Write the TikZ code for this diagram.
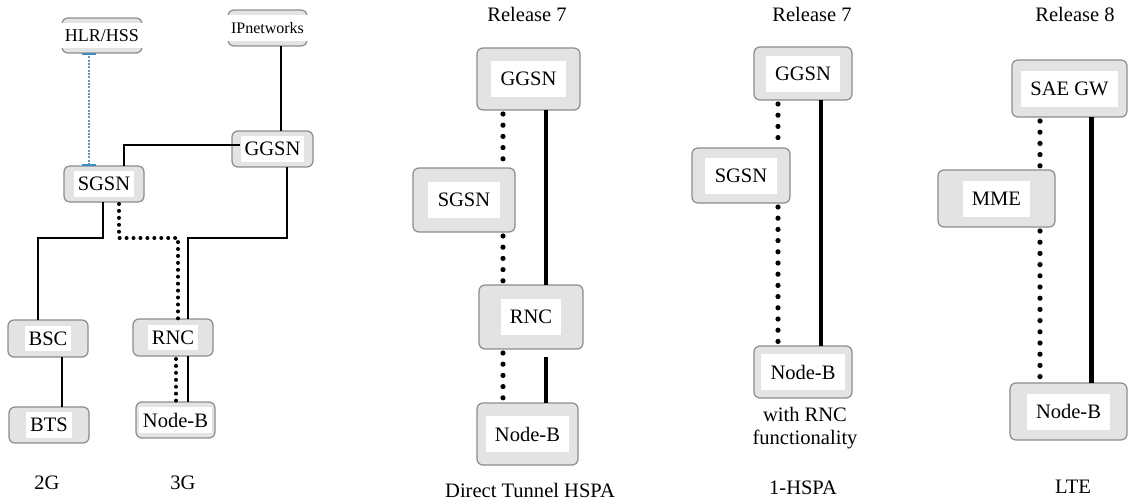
\documentclass[tikz,border=0pt]{standalone}
\usepackage{fontspec}
\setmainfont{Liberation Serif}
\newfontfamily\tmsfont{Liberation Serif}
\usetikzlibrary{calc}

% Network element: grey rounded frame with a white label field
\newcommand\netbox[7]{%
  \node[outerbox, minimum width={(#4-#2)*0.75pt}, minimum height={(#5-#3)*0.75pt}]
    (#1) at ({(#2+#4)/2},{(#3+#5)/2}) {};
  \node[#6] (#1-txt) at (#1.center) {#7};
}

\tikzset{
  outerbox/.style={draw=black!45, fill=black!11, rounded corners=4.5pt,
    line width=0.9pt, inner sep=0pt, outer sep=0pt},
  fieldS/.style={fill=white, inner xsep=3pt, inner ysep=0pt, minimum height=19pt,
    font=\tmsfont\fontsize{15.4}{18}\selectfont},
  fieldL/.style={fill=white, inner xsep=7pt, inner ysep=0pt, minimum height=27pt,
    font=\tmsfont\fontsize{15.4}{18}\selectfont},
  caption/.style={font=\tmsfont\fontsize{15.4}{17.25}\selectfont, align=center, inner sep=0pt},
  solidL/.style={line width=1.8pt, black},
  dotL/.style={line width=3pt, black, line cap=round, dash pattern=on 0pt off 5.2pt},
  blueline/.style={line width=0.9pt, color={rgb,255:red,95;green,150;blue,185}, dash pattern=on 1.5pt off 1pt},
  bluecap/.style={line width=1.2pt, color={rgb,255:red,60;green,140;blue,190}},
  solidM/.style={line width=3pt, black},
  solidW/.style={line width=3.75pt, black},
  dotM/.style={line width=3.9pt, black, line cap=round, dash pattern=on 0pt off 8.4pt},
}

\begin{document}
\begin{tikzpicture}[x=0.75pt, y=-0.75pt]
\useasboundingbox (0,0) rectangle (1129,500);

% ---------- 2G / 3G core network ----------
\netbox{hlr}{62}{18}{142}{53}{fieldS, font=\tmsfont\fontsize{13.5}{16}\selectfont}{HLR/HSS}
\netbox{ipn}{228}{10}{307}{46}{fieldS, font=\tmsfont\fontsize{12}{14}\selectfont}{IPnetworks}
\netbox{ggsnA}{232}{131}{313}{167}{fieldS}{GGSN}
\netbox{sgsnA}{64}{166}{144}{202}{fieldS}{SGSN}
\netbox{bsc}{8}{320}{88}{357}{fieldS}{BSC}
\netbox{rnc}{133}{319}{213}{356}{fieldS}{RNC}
\netbox{bts}{9}{407}{89}{443}{fieldS}{BTS}
\netbox{nodebA}{136}{402}{215}{438}{fieldS}{Node-B}

\node[caption] (lab2g) at (47,483) {2G};
\node[caption] (lab3g) at (183,483) {3G};

\draw[blueline] ($(hlr.south)+(-13,0)$) coordinate (hA) -- (hA |- sgsnA.north) coordinate (hB);
\draw[bluecap] ($(hA)+(-7,1)$) -- ++(14,0);
\draw[bluecap] ($(hB)+(-7,-1)$) -- ++(14,0);

\draw[solidL] ($(ipn.south)+(13.5,0)$) coordinate (i1) -- (i1 |- ggsnA.north);
\draw[solidL] ($(ggsnA.west)+(8,-4)$) -| ($(sgsnA.north)+(20,0)$);
\draw[solidL] ($(sgsnA.south)+(-1,0)$) -- ++(0,36) -| ($(bsc.north)+(-10,0)$);
\draw[dotL] ($(sgsnA.south)+(15,2)$) -- ++(0,34) -| ($(rnc.north)+(5,0)$);
\draw[solidL] ($(ggsnA.south)+(14.5,0)$) -- ++(0,71) -| ($(rnc.north)+(15,0)$);
\draw[solidL] ($(bsc.south)+(14,0)$) coordinate (b1) -- (b1 |- bts.north);
\draw[dotL] ($(rnc.south)+(3,3)$) coordinate (r1) -- (r1 |- nodebA.north);
\draw[solidL] ($(rnc.south)+(15,0)$) coordinate (r2) -- (r2 |- nodebA.north);

% ---------- Direct Tunnel HSPA ----------
\node[caption] (relB) at (527,14) {Release 7};
\netbox{ggsnB}{477}{48}{580}{110}{fieldL}{GGSN}
\netbox{sgsnB}{413}{168}{515}{232}{fieldL}{SGSN}
\netbox{rncB}{479}{285}{583}{349}{fieldL}{RNC}
\netbox{nodebB}{477}{403}{578}{465}{fieldL}{Node-B}
\node[caption] (capB) at (530,490) {Direct Tunnel HSPA};

\draw[dotM] ($(ggsnB.south)+(-25.5,4)$) coordinate (g1) -- (g1 |- sgsnB.north);
\draw[dotM] ($(sgsnB.south)+(39,4)$) coordinate (s1) -- (s1 |- rncB.north);
\draw[dotM] ($(rncB.south)+(-28,4)$) coordinate (r3) -- (r3 |- nodebB.north);
\draw[solidM] ($(ggsnB.south)+(17.5,0)$) coordinate (g2) -- (g2 |- rncB.north);
\draw[solidM] ($(rncB.south)+(15,8)$) coordinate (r4) -- (r4 |- nodebB.north);

% ---------- 1-HSPA ----------
\node[caption] (relC) at (812,14) {Release 7};
\netbox{ggsnC}{754}{47}{852}{100}{fieldL}{GGSN}
\netbox{sgsnC}{692}{148}{790}{203}{fieldL}{SGSN}
\netbox{nodebC}{754}{346}{852}{398}{fieldL}{Node-B}
\node[caption] (noteC) at (805,428.5) {with RNC\\functionality};
\node[caption] (capC) at (803,488) {1-HSPA};

\draw[dotM] ($(ggsnC.south)+(-25,4)$) coordinate (g3) -- (g3 |- sgsnC.north);
\draw[dotM] ($(sgsnC.south)+(37,4)$) coordinate (s3) -- (s3 |- nodebC.north);
\draw[solidM] ($(ggsnC.south)+(18,0)$) coordinate (g4) -- (g4 |- nodebC.north);

% ---------- LTE ----------
\node[caption] (relD) at (1075,14) {Release 8};
\netbox{saegw}{1012}{60}{1127}{117}{fieldL}{SAE GW}
\netbox{mme}{938}{170}{1055}{227}{fieldL}{MME}
\netbox{nodebD}{1010}{383}{1127}{440}{fieldL}{Node-B}
\node[caption] (capD) at (1073,487) {LTE};

\draw[dotM] ($(saegw.south)+(-29.5,4)$) coordinate (a1) -- (a1 |- mme.north);
\draw[dotM] ($(mme.south)+(43.5,4)$) coordinate (m1) -- (m1 |- nodebD.north);
\draw[solidW] ($(saegw.south)+(21.5,0)$) coordinate (a2) -- (a2 |- nodebD.north);
\end{tikzpicture}
\end{document}
